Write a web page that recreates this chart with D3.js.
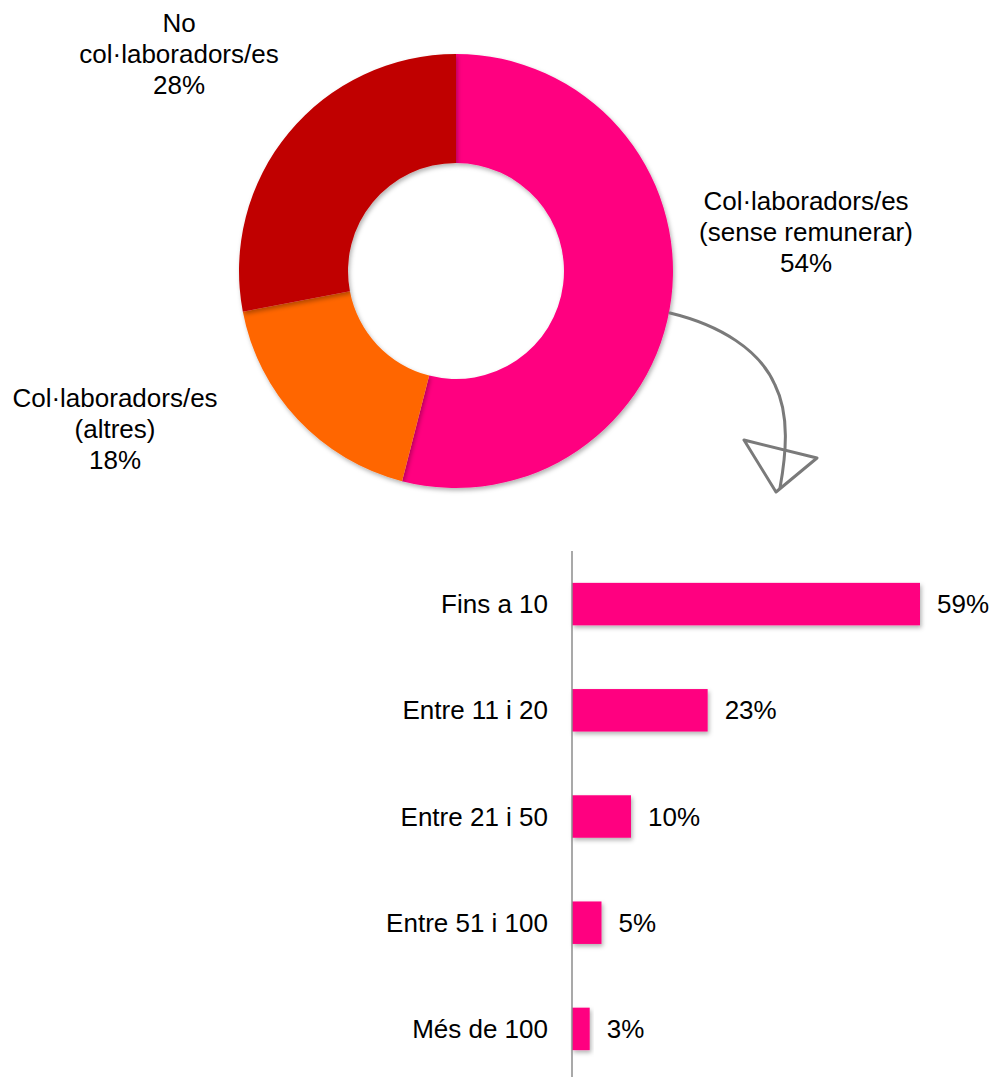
<!DOCTYPE html>
<html><head><meta charset="utf-8">
<script src="https://cdn.jsdelivr.net/npm/d3@7"></script>
<style>body{margin:0;background:#fff}svg{display:block;font-family:"Liberation Sans",Arial,sans-serif}</style>
</head><body>
<svg id="c" width="994" height="1077"></svg>
<script>
const donutCategories = ["Col·laboradors/es (sense remunerar)", "Col·laboradors/es (altres)", "No col·laboradors/es"];
const donutValues = [54, 18, 28];
const donutColors = ["#FF0080", "#FF6600", "#C00000"];
const donutLabelLines = [["Col·laboradors/es", "(sense remunerar)", "54%"], ["Col·laboradors/es", "(altres)", "18%"], ["No", "col·laboradors/es", "28%"]];

const barCategories = ["Fins a 10", "Entre 11 i 20", "Entre 21 i 50", "Entre 51 i 100", "Més de 100"];
const barValues = [59, 23, 10, 5, 3];
const barLabels = ["59%", "23%", "10%", "5%", "3%"];

const FS = 26;
const svg = d3.select("#c");
const defs = svg.append("defs");
const f = defs.append("filter").attr("id", "sh").attr("x", "-10%").attr("y", "-10%").attr("width", "130%").attr("height", "140%");
f.append("feDropShadow").attr("dx", 1.5).attr("dy", 2.5).attr("stdDeviation", 2).attr("flood-color", "#000").attr("flood-opacity", 0.3);

// Donut
const cx = 456, cy = 271, rOut = 217, rIn = 108;
const pie = d3.pie().sort(null).value(d => d)(donutValues);
const arc = d3.arc().innerRadius(rIn).outerRadius(rOut);
const g = svg.append("g").attr("transform", `translate(${cx},${cy})`);
g.selectAll("path").data(pie).join("path")
  .attr("d", arc).attr("fill", (d, i) => donutColors[i]).attr("filter", "url(#sh)");

const labelPos = [[806, 201], [115, 398], [179, 23]];
donutLabelLines.forEach((lines, i) => {
  const t = svg.append("text").attr("text-anchor", "middle").attr("font-size", FS).attr("fill", "#000");
  lines.forEach((l, j) => t.append("tspan").attr("x", labelPos[i][0]).attr("y", labelPos[i][1] + j * 31).attr("dy", "0.35em").text(l));
});

// Hand-drawn arrow
const arrow = svg.append("g").attr("fill", "none").attr("stroke", "#7a7a7a").attr("stroke-width", 3).attr("stroke-linecap", "round").attr("stroke-linejoin", "round");
arrow.append("path").attr("d", "M670,313 C720,325 760,350 775,385 C790,415 786,455 780,488");
arrow.append("path").attr("d", "M744,440 L817,458 L776,492 Z");

// Bars
const x = d3.scaleLinear().domain([0, 59]).range([572, 920]);
const y = d3.scaleBand().domain(barCategories).range([551, 1082]).paddingInner(0.6).paddingOuter(0.3);
svg.append("g").selectAll("rect").data(barValues).join("rect")
  .attr("x", x(0)).attr("y", (d, i) => y(barCategories[i]))
  .attr("width", d => x(d) - x(0)).attr("height", y.bandwidth())
  .attr("fill", "#FF0080").attr("filter", "url(#sh)");
svg.append("g").selectAll("text").data(barCategories).join("text")
  .attr("x", 548).attr("y", d => y(d) + y.bandwidth() / 2).attr("dy", "0.35em")
  .attr("text-anchor", "end").attr("font-size", FS).text(d => d);
svg.append("g").selectAll("text").data(barValues).join("text")
  .attr("x", d => x(d) + 17).attr("y", (d, i) => y(barCategories[i]) + y.bandwidth() / 2).attr("dy", "0.35em")
  .attr("font-size", FS).text((d, i) => barLabels[i]);
svg.append("line").attr("x1", 572).attr("x2", 572).attr("y1", 551).attr("y2", 1077).attr("stroke", "#8c8c8c").attr("stroke-width", 1.5);
</script>
</body></html>
